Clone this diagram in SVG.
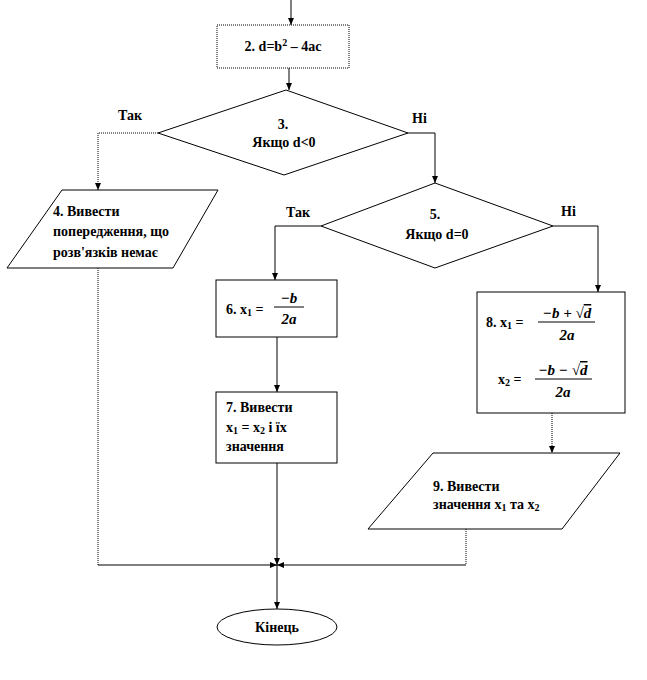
<svg xmlns="http://www.w3.org/2000/svg" width="647" height="680" viewBox="0 0 647 680">
<defs>
<marker id="arr" markerWidth="8" markerHeight="8" refX="7" refY="4" orient="auto" markerUnits="userSpaceOnUse">
<path d="M0,1 L7,4 L0,7 Z" fill="#000"/>
</marker>
<style>
.shape{fill:#fff;stroke:#000;stroke-width:1}
.dot{stroke-dasharray:1,1}
.ln{fill:none;stroke:#000;stroke-width:1}
.t{font-family:"Liberation Serif","Times New Roman",serif;font-weight:bold;font-size:14px;fill:#000}
.m{font-family:"Liberation Serif","Times New Roman",serif;font-style:italic;font-weight:bold;font-size:15px;fill:#000}
.c{text-anchor:middle}
</style>
</defs>
<rect width="647" height="680" fill="#fff"/>
<g id="connectors">
<path class="ln" d="M291,0 V25" marker-end="url(#arr)"/>
<path class="ln" d="M289,68 V90" marker-end="url(#arr)"/>
<path class="ln dot" d="M158,133 H98 V190" marker-end="url(#arr)"/>
<path class="ln" d="M408,133 H435 V183" marker-end="url(#arr)"/>
<path class="ln" d="M321,226 H275 V280" marker-end="url(#arr)"/>
<path class="ln" d="M553,226 H598 V292" marker-end="url(#arr)"/>
<path class="ln" d="M277,337 V392" marker-end="url(#arr)"/>
<path class="ln dot" d="M552,413 V453" marker-end="url(#arr)"/>
<path class="ln" d="M277,463 V565" marker-end="url(#arr)"/>
<path class="ln dot" d="M98,268 V565"/>
<path class="ln" d="M98,565 H277" marker-end="url(#arr)"/>
<path class="ln dot" d="M466,529 V565"/>
<path class="ln" d="M466,565 H277" marker-end="url(#arr)"/>
<path class="ln" d="M277,565 V609" marker-end="url(#arr)"/>
</g>
<g id="n2">
<rect class="shape dot" x="217" y="25" width="132" height="43"/>
<text class="t c" x="283" y="51">2. d=b<tspan font-size="10" dy="-5">2</tspan><tspan dy="5"> – 4ac</tspan></text>
</g>
<g id="n3">
<polygon class="shape" points="286,90 408,133 284,175 158,133"/>
<text class="t c" x="283" y="129">3.</text>
<text class="t c" x="284" y="147">Якщо d&lt;0</text>
<text class="t" x="118" y="120">Так</text>
<text class="t" x="412" y="123">Ні</text>
</g>
<g id="n4">
<polygon class="shape" points="62,190 218,190 173,268 7,268"/>
<text class="t" x="53" y="216">4. Вивести</text>
<text class="t" x="53" y="236">попередження, що</text>
<text class="t" x="53" y="257">розв'язків  немає</text>
</g>
<g id="n5">
<polygon class="shape" points="435,183 553,226 435,268 321,226"/>
<text class="t c" x="435" y="219">5.</text>
<text class="t c" x="437" y="239">Якщо d=0</text>
<text class="t" x="286" y="217">Так</text>
<text class="t" x="561" y="216">Ні</text>
</g>
<g id="n6">
<rect class="shape" x="216" y="280" width="121" height="57"/>
<text class="t" x="226" y="314">6. x<tspan font-size="10" dy="2">1</tspan><tspan dy="-2"> =</tspan></text>
<text class="m c" x="289" y="303">−b</text>
<line class="ln" x1="274" y1="307" x2="304" y2="307"/>
<text class="m c" x="289" y="324">2a</text>
</g>
<g id="n7">
<rect class="shape" x="216" y="392" width="121" height="71"/>
<text class="t" x="226" y="412">7. Вивести</text>
<text class="t" x="226" y="432">x<tspan font-size="10" dy="2">1</tspan><tspan dy="-2"> = x</tspan><tspan font-size="10" dy="2">2</tspan><tspan dy="-2"> і їх</tspan></text>
<text class="t" x="226" y="451">значення</text>
</g>
<g id="n8">
<rect class="shape" x="477" y="292" width="148" height="121"/>
<text class="t" x="486" y="327">8. x<tspan font-size="10" dy="2">1</tspan><tspan dy="-2"> = </tspan></text>
<text class="m c" x="567" y="318">−b + √<tspan text-decoration="overline">d</tspan></text>
<line class="ln" x1="538" y1="322" x2="595" y2="322"/>
<text class="m c" x="567" y="340">2a</text>
<text class="t" x="498" y="384">x<tspan font-size="10" dy="2">2</tspan><tspan dy="-2"> =</tspan></text>
<text class="m c" x="563" y="375">−b − √<tspan text-decoration="overline">d</tspan></text>
<line class="ln" x1="535" y1="379" x2="592" y2="379"/>
<text class="m c" x="563" y="397">2a</text>
</g>
<g id="n9">
<polygon class="shape" points="433,453 620,453 562,529 368,529"/>
<text class="t" x="433" y="491">9. Вивести</text>
<text class="t" x="433" y="509">значення x<tspan font-size="10" dy="2">1</tspan><tspan dy="-2"> та x</tspan><tspan font-size="10" dy="2">2</tspan></text>
</g>
<g id="end">
<ellipse class="shape" cx="277" cy="627" rx="60" ry="18"/>
<text class="t c" x="277" y="632">Кінець</text>
</g>
</svg>
